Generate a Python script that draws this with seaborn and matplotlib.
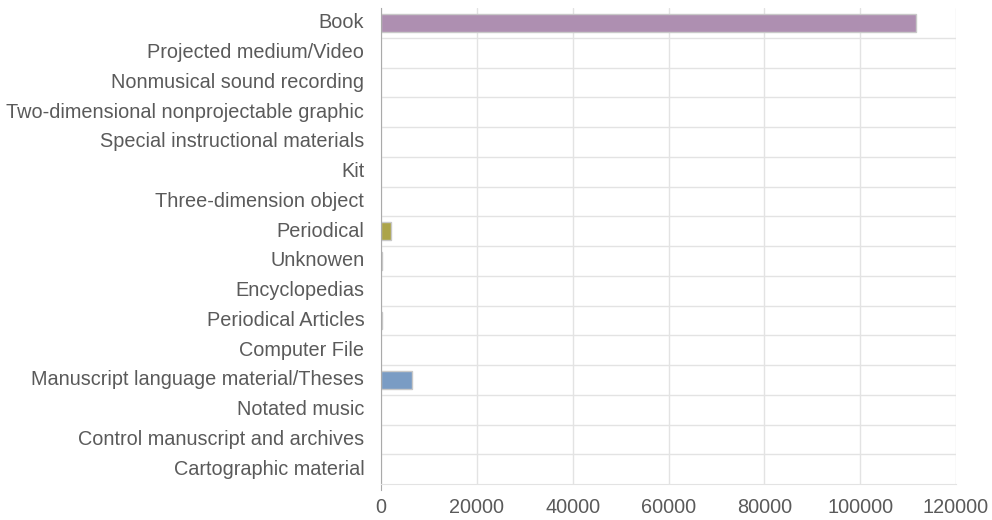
import pandas as pd
import numpy as np
import matplotlib
matplotlib.use("Agg")
import matplotlib.pyplot as plt
import matplotlib.transforms as mtransforms
import seaborn as sns

# Data
categories = [
    "Book",
    "Projected medium/Video",
    "Nonmusical sound recording",
    "Two-dimensional nonprojectable graphic",
    "Special instructional materials",
    "Kit",
    "Three-dimension object",
    "Periodical",
    "Unknowen",
    "Encyclopedias",
    "Periodical Articles",
    "Computer File",
    "Manuscript language material/Theses",
    "Notated music",
    "Control manuscript and archives",
    "Cartographic material",
]
counts = [111600, 0, 0, 0, 0, 0, 0, 2100, 120, 0, 250, 0, 6400, 0, 0, 0]
bar_colors = [
    "#ae8fb1", "#c9b3d6", "#e0c0a0", "#c0d0e0", "#d0c0e0", "#d0d0a0",
    "#e0b0b0", "#aca44a", "#b5d19a", "#c0c0c0", "#9fd3c7", "#d0b0d0",
    "#7a9cc4", "#e0d0a0", "#b0c0d0", "#c0e0c0",
]
x_ticks = [0, 20000, 40000, 60000, 80000, 100000, 120000]

data = pd.DataFrame({"Type": categories, "Count": counts})
palette = dict(zip(categories, bar_colors))

sns.set_style("white")
plt.rcParams["font.family"] = ["Liberation Sans", "DejaVu Sans"]

fig = plt.figure(figsize=(9.92, 5.2), dpi=100)
ax = fig.add_axes([381 / 992, 1 - 484 / 520, 575 / 992, 476 / 520])

sns.barplot(data=data, y="Type", x="Count", hue="Type", palette=palette,
            order=categories, hue_order=categories, orient="h", legend=False,
            width=0.58, edgecolor="#c8c8c8", linewidth=1.0, saturation=1,
            ax=ax)

# no outline on empty bars
for patch in ax.patches:
    if patch.get_width() == 0:
        patch.set_linewidth(0)

ax.set_xlim(0, 120000)
ax.set_ylim(15.5, -0.5)
ax.set_xticks(x_ticks)
ax.set_xticklabels([str(t) for t in x_ticks])
ax.set_yticks(np.arange(len(categories)))
ax.set_yticks(np.arange(len(categories) - 1) + 0.5, minor=True)
ax.set_xlabel("")
ax.set_ylabel("")

ax.grid(axis="x", color="#e3e3e3", linewidth=1)
ax.grid(axis="y", which="minor", color="#e3e3e3", linewidth=1)
ax.set_axisbelow(True)

ax.tick_params(axis="y", which="major", length=0, pad=12, labelsize=14.3,
               labelcolor="#5a5a5a")
ax.tick_params(axis="y", which="minor", length=14, color="#e3e3e3", width=1)
ax.tick_params(axis="x", length=6, color="#e3e3e3", width=1, pad=4,
               labelsize=14.3, labelcolor="#5a5a5a")

# category labels sit slightly above the bar centres
shift = mtransforms.ScaledTranslation(0, 2 / 100, fig.dpi_scale_trans)
for lab in ax.get_yticklabels():
    lab.set_transform(lab.get_transform() + shift)

for side in ["top", "right"]:
    ax.spines[side].set_visible(False)
ax.spines["bottom"].set_color("#e3e3e3")
ax.spines["left"].set_color("#aaaaaa")
ax.spines["left"].set_bounds(15.7, -0.5)

fig.savefig("out.png", dpi=100)
